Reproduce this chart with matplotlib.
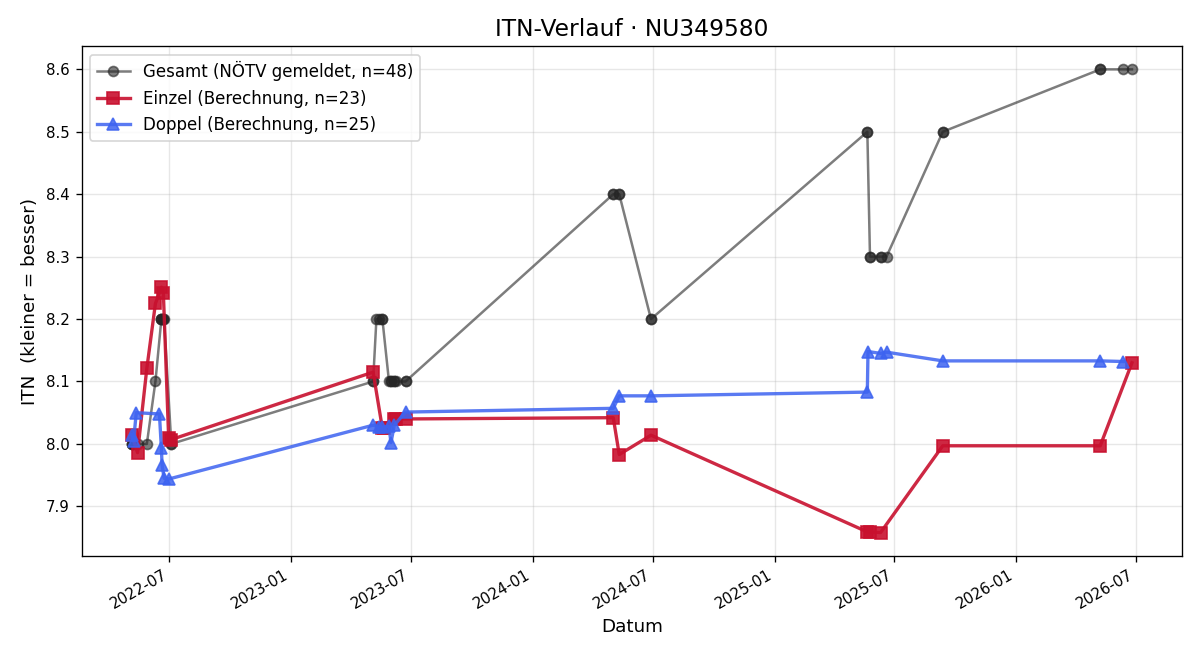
import matplotlib
matplotlib.use("Agg")
import matplotlib.pyplot as plt
import matplotlib.dates as mdates
import pandas as pd

# Gesamt (NÖTV gemeldet) – one entry per match, n=48
gesamt_dates = ["2022-05-05", "2022-05-05", "2022-05-05", "2022-05-08", "2022-05-14",
                "2022-05-28", "2022-06-10", "2022-06-19", "2022-06-19", "2022-06-19",
                "2022-06-22", "2022-06-22", "2022-06-23", "2022-07-04", "2022-07-04",
                "2023-05-05", "2023-05-05", "2023-05-10", "2023-05-14", "2023-05-19",
                "2023-05-19", "2023-05-29", "2023-06-01", "2023-06-01", "2023-06-06",
                "2023-06-06", "2023-06-09", "2023-06-23", "2023-06-23",
                "2024-05-02", "2024-05-02", "2024-05-11", "2024-05-11", "2024-06-28",
                "2024-06-28", "2025-05-21", "2025-05-21", "2025-05-25", "2025-05-25",
                "2025-06-10", "2025-06-10", "2025-06-19", "2025-09-12", "2025-09-12",
                "2026-05-08", "2026-05-08", "2026-06-12", "2026-06-25"]
gesamt_vals = [8.0, 8.0, 8.0, 8.0, 8.0,
               8.0, 8.1, 8.2, 8.2, 8.2,
               8.2, 8.2, 8.2, 8.0, 8.0,
               8.1, 8.1, 8.2, 8.2, 8.2,
               8.2, 8.1, 8.1, 8.1, 8.1,
               8.1, 8.1, 8.1, 8.1,
               8.4, 8.4, 8.4, 8.4, 8.2,
               8.2, 8.5, 8.5, 8.3, 8.3,
               8.3, 8.3, 8.3, 8.5, 8.5,
               8.6, 8.6, 8.6, 8.6]

# Einzel (Berechnung), n=23
einzel_dates = ["2022-05-05", "2022-05-14", "2022-05-28", "2022-06-10", "2022-06-19",
                "2022-06-22", "2022-06-30", "2022-07-04",
                "2023-05-05", "2023-05-19", "2023-05-22", "2023-06-06", "2023-06-09",
                "2023-06-23",
                "2024-05-02", "2024-05-11", "2024-06-28",
                "2025-05-21", "2025-05-25", "2025-06-10", "2025-09-12",
                "2026-05-08", "2026-06-25"]
einzel_vals = [8.015, 7.986, 8.121, 8.225, 8.251,
               8.241, 8.009, 8.007,
               8.115, 8.025, 8.025, 8.040, 8.040,
               8.040,
               8.042, 7.983, 8.014,
               7.859, 7.859, 7.858, 7.997,
               7.997, 8.130]

# Doppel (Berechnung), n=25
doppel_dates = ["2022-05-05", "2022-05-08", "2022-05-12", "2022-06-16", "2022-06-19",
                "2022-06-20", "2022-06-23", "2022-07-01",
                "2023-05-05", "2023-05-14", "2023-05-19", "2023-05-29", "2023-06-01",
                "2023-06-06", "2023-06-23",
                "2024-05-02", "2024-05-11", "2024-06-28",
                "2025-05-21", "2025-05-22", "2025-06-10", "2025-06-19", "2025-09-12",
                "2026-05-08", "2026-06-12"]
doppel_vals = [8.015, 8.005, 8.050, 8.048, 7.993,
               7.967, 7.945, 7.944,
               8.030, 8.027, 8.027, 8.028, 8.002,
               8.030, 8.051,
               8.057, 8.077, 8.077,
               8.083, 8.148, 8.145, 8.147, 8.133,
               8.133, 8.132]

fig, ax = plt.subplots(figsize=(10, 5.5), dpi=120)

ax.plot(pd.to_datetime(gesamt_dates), gesamt_vals, marker="o", color="#262626", alpha=0.6,
        linewidth=1.5, markersize=6, label="Gesamt (NÖTV gemeldet, n=48)")
ax.plot(pd.to_datetime(einzel_dates), einzel_vals, marker="s", color="#C8102E", alpha=0.9,
        linewidth=2, markersize=7, label="Einzel (Berechnung, n=23)")
ax.plot(pd.to_datetime(doppel_dates), doppel_vals, marker="^", color="#3D63F0", alpha=0.85,
        linewidth=2, markersize=7, label="Doppel (Berechnung, n=25)")

ax.set_title("ITN-Verlauf · NU349580", fontsize=14)
ax.set_xlabel("Datum", fontsize=11)
ax.set_ylabel("ITN  (kleiner = besser)", fontsize=11)
ax.grid(True, alpha=0.3)
ax.xaxis.set_major_locator(mdates.MonthLocator(bymonth=[1, 7]))
ax.xaxis.set_major_formatter(mdates.DateFormatter("%Y-%m"))
ax.tick_params(labelsize=9)
ax.legend(loc="upper left", fontsize=10)
fig.autofmt_xdate()
fig.subplots_adjust(left=0.068, right=0.985, top=0.93, bottom=0.158)
fig.savefig("out.png", dpi=120)
